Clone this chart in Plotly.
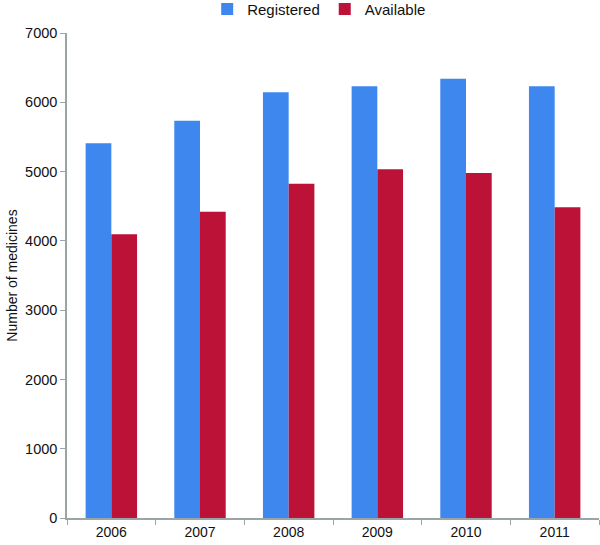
import plotly.graph_objects as go

years = ["2006", "2007", "2008", "2009", "2010", "2011"]
registered = [5410, 5735, 6145, 6230, 6340, 6230]
available = [4095, 4420, 4825, 5035, 4980, 4485]
y_ticks = [0, 1000, 2000, 3000, 4000, 5000, 6000, 7000]

font_family = "Liberation Sans, Arial, Helvetica, sans-serif"

fig = go.Figure()
fig.add_trace(go.Bar(x=years, y=registered, name="Registered",
                     marker=dict(color="#3D87EE", line=dict(width=0))))
fig.add_trace(go.Bar(x=years, y=available, name="Available",
                     marker=dict(color="#BD1238", line=dict(width=0))))

fig.update_layout(
    width=600, height=545,
    margin=dict(l=67, r=1, t=33, b=27, autoexpand=False),
    barmode="group", bargap=0.42, bargroupgap=0,
    plot_bgcolor="white", paper_bgcolor="white",
    font=dict(family=font_family, size=14, color="#111111"),
    showlegend=True,
    legend=dict(orientation="h", xref="container", x=0.532, xanchor="center",
                yref="container", y=0.983, yanchor="middle",
                font=dict(size=15), traceorder="normal",
                itemwidth=30, tracegroupgap=0),
)
fig.update_xaxes(
    type="category", showline=True, linecolor="#9AA5A5", linewidth=1.5,
    ticks="outside", tickson="boundaries", ticklen=5, tickcolor="#9AA5A5",
    showgrid=False, tickfont=dict(size=14), zeroline=False, automargin=False,
)
fig.update_yaxes(
    range=[0, 7000], tickvals=y_ticks, showline=True, linecolor="#9AA5A5", linewidth=1.5,
    ticks="outside", ticklen=5, tickcolor="#9AA5A5", showgrid=False, zeroline=False,
    tickfont=dict(size=14.5), automargin=False,
    title=dict(text="Number of medicines", font=dict(size=14), standoff=4),
)

fig.write_html("out.html", config={"displayModeBar": False},
               post_script="document.body.style.margin='0';")
